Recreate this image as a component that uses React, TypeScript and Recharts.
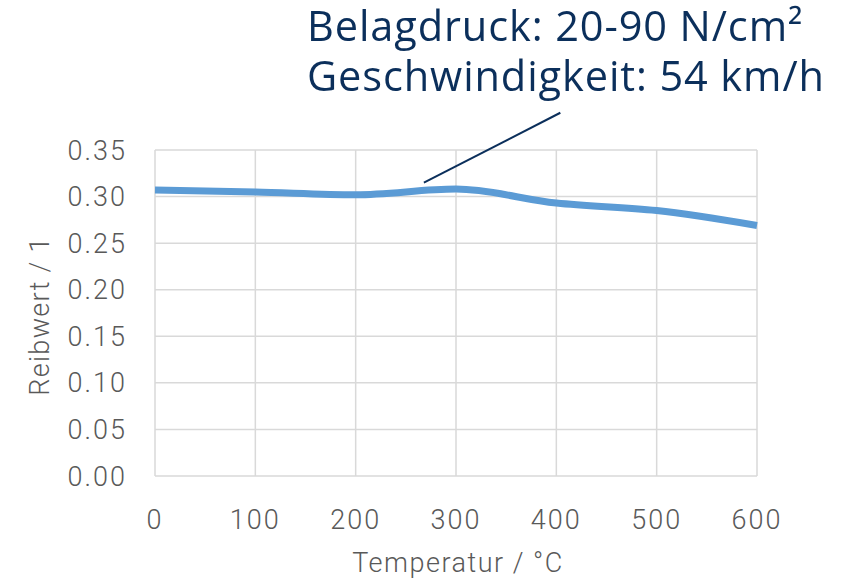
import {
  LineChart,
  Line,
  XAxis,
  YAxis,
  CartesianGrid,
  ReferenceLine
} from "recharts";

const temperatures = [0, 100, 200, 300, 400, 500, 600];
const reibwert = [0.307, 0.305, 0.302, 0.308, 0.293, 0.285, 0.269];
const xTicks = [0, 100, 200, 300, 400, 500, 600];
const yTicks = [0, 0.05, 0.1, 0.15, 0.2, 0.25, 0.3, 0.35];
const noteLines = ["Belagdruck: 20-90 N/cm²", "Geschwindigkeit: 54 km/h"];

const data = temperatures.map((t, i) => ({ t, r: reibwert[i] }));

const tickStyle = {
  fill: "#595959",
  fontSize: 27,
  fontFamily: "Roboto, sans-serif",
  fontWeight: 300,
  letterSpacing: 2
};

export default function App() {
  return (
    <div
      style={{
        position: "fixed",
        left: 0,
        top: 0,
        width: 851,
        height: 585,
        background: "#fff"
      }}
    >
      <LineChart
        width={851}
        height={585}
        data={data}
        margin={{ top: 150, right: 94, bottom: 49, left: 65 }}
      >
        <CartesianGrid stroke="#d9d9d9" strokeWidth={1.5} />
        <XAxis
          dataKey="t"
          type="number"
          domain={[0, 600]}
          ticks={xTicks}
          axisLine={false}
          tickLine={false}
          tick={tickStyle}
          tickMargin={28}
          height={60}
        />
        <YAxis
          type="number"
          domain={[0, 0.35]}
          ticks={yTicks}
          tickFormatter={(v: number) => v.toFixed(2)}
          axisLine={false}
          tickLine={false}
          tick={tickStyle}
          tickMargin={22}
          width={90}
        />
        <ReferenceLine
          segment={[
            { x: 268, y: 0.315 },
            { x: 404, y: 0.39 }
          ]}
          stroke="#0b2f5b"
          strokeWidth={2}
          ifOverflow="visible"
        />
        <Line
          type="monotone"
          dataKey="r"
          stroke="#5b9bd5"
          strokeWidth={7}
          dot={false}
          isAnimationActive={false}
        />
      </LineChart>
      <div
        style={{
          position: "absolute",
          left: 40,
          top: 316,
          transform: "translate(-50%, -50%) rotate(-90deg)",
          whiteSpace: "nowrap",
          color: "#595959",
          fontSize: 27,
          fontFamily: "Roboto, sans-serif",
          fontWeight: 300,
          letterSpacing: 1.3
        }}
      >
        Reibwert / 1
      </div>
      <div
        style={{
          position: "absolute",
          left: 458,
          top: 563,
          transform: "translate(-50%, -50%)",
          whiteSpace: "nowrap",
          color: "#595959",
          fontSize: 27,
          fontFamily: "Roboto, sans-serif",
          fontWeight: 300,
          letterSpacing: 1.5
        }}
      >
        Temperatur / °C
      </div>
      <div
        style={{
          position: "absolute",
          left: 307,
          top: 0,
          color: "#0b2f5b",
          fontSize: 41.5,
          lineHeight: "50px",
          letterSpacing: 0.9,
          fontFamily: "'Open Sans', sans-serif",
          whiteSpace: "nowrap"
        }}
      >
        {noteLines.map((l) => (
          <div key={l}>{l}</div>
        ))}
      </div>
    </div>
  );
}
